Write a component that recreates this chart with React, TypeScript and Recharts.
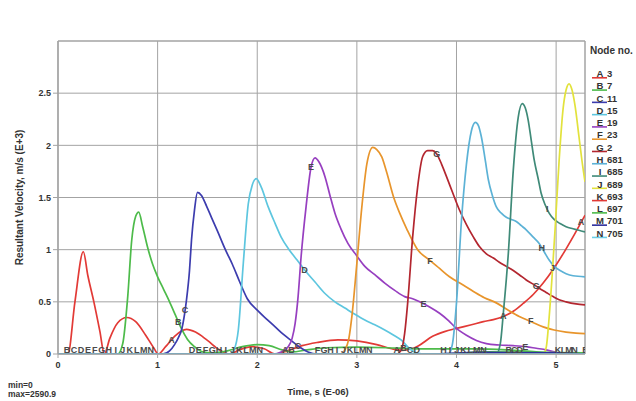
import React from 'react';
import {
  ComposedChart,
  Line,
  Scatter,
  XAxis,
  YAxis,
  CartesianGrid,
  ReferenceArea,
} from 'recharts';

// resultant velocity (m/s E+3) against time (s E-06), one list per node
const node3: [number, number][] = [
  [0, 0], [0.1, 0], [0.17, 0.5], [0.254, 0.98], [0.3, 0.75], [0.36, 0.5], [0.42, 0.22], [0.465, 0],
  [0.52, 0.15], [0.6, 0.3], [0.69, 0.35], [0.78, 0.31], [0.88, 0.18], [0.96, 0.06], [1.006, 0],
  [1.08, 0.07], [1.17, 0.17], [1.29, 0.236], [1.38, 0.21], [1.5, 0.13], [1.62, 0.04], [1.72, 0],
  [1.82, 0.04], [1.95, 0.07], [2.07, 0.05], [2.18, 0], [2.3, 0.03], [2.45, 0.08], [2.6, 0.11],
  [2.81, 0.135], [3.0, 0.125], [3.2, 0.09], [3.35, 0.05], [3.45, 0.035], [3.55, 0.05], [3.62, 0.08],
  [3.76, 0.17], [3.88, 0.215], [4.0, 0.245], [4.15, 0.28], [4.27, 0.31], [4.37, 0.33], [4.47, 0.36],
  [4.57, 0.41], [4.67, 0.485], [4.77, 0.57], [4.87, 0.68], [4.97, 0.81], [5.07, 0.96], [5.18, 1.14],
  [5.29, 1.33],
];
const node7: [number, number][] = [
  [0, 0], [0.6, 0], [0.65, 0.1], [0.7, 0.55], [0.74, 1.09], [0.78, 1.32], [0.81, 1.36], [0.85, 1.22],
  [0.9, 1.02], [0.95, 0.86], [1.0, 0.74], [1.06, 0.62], [1.12, 0.5], [1.18, 0.37], [1.24, 0.24],
  [1.3, 0.14], [1.37, 0.07], [1.45, 0.02], [1.55, 0.01], [1.7, 0.03], [1.85, 0.07], [2.0, 0.09],
  [2.12, 0.08], [2.25, 0.04], [2.35, 0.02], [2.5, 0.04], [2.7, 0.06], [3.0, 0.065], [3.3, 0.06],
  [3.6, 0.05], [3.9, 0.05], [4.2, 0.05], [4.5, 0.04], [4.8, 0.02], [5.0, 0.01], [5.29, 0.01],
];
const node11: [number, number][] = [
  [0, 0], [1.05, 0], [1.12, 0.03], [1.17, 0.09], [1.21, 0.16], [1.24, 0.23], [1.27, 0.38], [1.29, 0.52],
  [1.32, 0.8], [1.34, 1.09], [1.37, 1.38], [1.4, 1.55], [1.44, 1.52], [1.49, 1.42], [1.54, 1.31],
  [1.6, 1.18], [1.68, 1.0], [1.75, 0.86], [1.82, 0.7], [1.9, 0.53], [2.0, 0.42], [2.1, 0.33],
  [2.18, 0.26], [2.26, 0.19], [2.34, 0.13], [2.42, 0.07], [2.51, 0.02], [2.6, 0], [5.29, 0],
];
const node15: [number, number][] = [
  [0, 0], [1.72, 0], [1.77, 0.05], [1.81, 0.23], [1.86, 0.87], [1.91, 1.44], [1.95, 1.62], [1.99, 1.68],
  [2.04, 1.6], [2.11, 1.41], [2.18, 1.25], [2.24, 1.12], [2.32, 1.0], [2.4, 0.9], [2.48, 0.8],
  [2.58, 0.69], [2.68, 0.58], [2.78, 0.5], [2.88, 0.44], [2.98, 0.38], [3.08, 0.325], [3.18, 0.28],
  [3.28, 0.23], [3.37, 0.18], [3.45, 0.13], [3.52, 0.06], [3.6, 0.01], [3.7, 0], [5.29, 0],
];
const node19: [number, number][] = [
  [0, 0], [2.16, 0], [2.24, 0.02], [2.31, 0.07], [2.35, 0.15], [2.38, 0.29], [2.41, 0.55], [2.44, 0.93],
  [2.49, 1.41], [2.54, 1.79], [2.58, 1.88], [2.62, 1.84], [2.68, 1.7], [2.73, 1.52], [2.78, 1.35],
  [2.84, 1.2], [2.91, 1.06], [3.0, 0.94], [3.08, 0.84], [3.18, 0.76], [3.28, 0.68], [3.38, 0.61],
  [3.48, 0.55], [3.56, 0.53], [3.63, 0.5], [3.73, 0.45], [3.83, 0.39], [3.92, 0.32], [4.0, 0.245],
  [4.1, 0.18], [4.2, 0.13], [4.3, 0.1], [4.43, 0.086], [4.57, 0.08], [4.7, 0.07], [4.8, 0.055],
  [4.9, 0.04], [5.0, 0.015], [5.1, 0], [5.29, 0],
];
const node23: [number, number][] = [
  [0, 0], [2.83, 0], [2.88, 0.04], [2.92, 0.15], [2.95, 0.36], [3.0, 0.87], [3.05, 1.41], [3.1, 1.82],
  [3.16, 1.98], [3.2, 1.96], [3.25, 1.89], [3.3, 1.74], [3.37, 1.5], [3.43, 1.35], [3.5, 1.2],
  [3.61, 1.0], [3.73, 0.9], [3.83, 0.82], [3.93, 0.74], [4.05, 0.67], [4.17, 0.6], [4.28, 0.54],
  [4.4, 0.49], [4.52, 0.42], [4.63, 0.36], [4.75, 0.31], [4.87, 0.26], [4.98, 0.23], [5.1, 0.21],
  [5.2, 0.2], [5.29, 0.195],
];
const node2: [number, number][] = [
  [0, 0], [3.4, 0], [3.45, 0.05], [3.48, 0.2], [3.51, 0.49], [3.56, 1.12], [3.61, 1.6], [3.66, 1.89],
  [3.71, 1.95], [3.76, 1.95], [3.8, 1.92], [3.85, 1.82], [3.9, 1.7], [3.96, 1.55], [4.03, 1.38],
  [4.1, 1.24], [4.17, 1.12], [4.23, 1.03], [4.3, 0.96], [4.37, 0.92], [4.43, 0.88], [4.5, 0.84],
  [4.57, 0.8], [4.63, 0.76], [4.7, 0.71], [4.77, 0.67], [4.83, 0.63], [4.9, 0.59], [4.97, 0.55],
  [5.03, 0.52], [5.1, 0.5], [5.2, 0.48], [5.29, 0.47],
];
const node681: [number, number][] = [
  [0, 0], [3.92, 0], [3.96, 0.1], [4.0, 0.49], [4.05, 1.28], [4.1, 1.82], [4.15, 2.14], [4.19, 2.22],
  [4.22, 2.19], [4.25, 2.08], [4.29, 1.85], [4.32, 1.67], [4.36, 1.52], [4.4, 1.41], [4.45, 1.35],
  [4.5, 1.31], [4.55, 1.29], [4.6, 1.27], [4.65, 1.23], [4.7, 1.19], [4.77, 1.12], [4.83, 1.06],
  [4.88, 0.98], [4.93, 0.9], [4.98, 0.84], [5.04, 0.8], [5.1, 0.77], [5.17, 0.75], [5.29, 0.74],
];
const node685: [number, number][] = [
  [0, 0], [4.4, 0], [4.44, 0.1], [4.47, 0.39], [4.52, 0.96], [4.57, 1.76], [4.62, 2.27], [4.66, 2.4],
  [4.69, 2.36], [4.72, 2.24], [4.75, 2.05], [4.78, 1.86], [4.82, 1.68], [4.85, 1.54], [4.89, 1.43],
  [4.93, 1.35], [4.98, 1.29], [5.04, 1.25], [5.1, 1.22], [5.17, 1.2], [5.29, 1.17],
];
const node689: [number, number][] = [
  [0, 0], [4.87, 0], [4.9, 0.06], [4.93, 0.35], [4.96, 0.75], [4.99, 1.2], [5.03, 1.85], [5.07, 2.35],
  [5.1, 2.53], [5.13, 2.59], [5.16, 2.53], [5.19, 2.38], [5.23, 2.08], [5.26, 1.85], [5.29, 1.65],
];
const node693: [number, number][] = [[0, 0], [5.29, 0]];
const node697: [number, number][] = [[0, 0], [3.9, 0], [4.3, 0.02], [4.8, 0.015], [5.29, 0.01]];
const node701: [number, number][] = [[0, 0], [3.8, 0], [4.2, 0.015], [5.0, 0.01], [5.29, 0]];
const node705: [number, number][] = [[0, 0], [5.29, 0]];

// curve letters are repeated along each curve, one pass after another
const LABEL_STARTS = [0.02, 1.14, 2.28, 3.4, 4.47, 5.25];
const LABEL_STEPS = [0.07, 0.068, 0.065, 0.067, 0.055, 0.045];

const X_TICKS = [0, 1, 2, 3, 4, 5];
const Y_TICKS = [0, 0.5, 1, 1.5, 2, 2.5];
const Y_MINOR = [0.25, 0.75, 1.25, 1.75, 2.25, 2.75];

const FONT = '"Liberation Sans", Arial, sans-serif';
const W = 636;
const H = 401;
const PLOT_TOP = 41;
const PLOT_LEFT = 58;
const PLOT_RIGHT = 585;
const PLOT_BOTTOM = 354;
const GRID = '#a3a3a3';
const TEXT = '#333';

const series = [
  { letter: 'A', node: '3', color: '#e23a36', raw: node3 },
  { letter: 'B', node: '7', color: '#4dbb4a', raw: node7 },
  { letter: 'C', node: '11', color: '#3c3cae', raw: node11 },
  { letter: 'D', node: '15', color: '#5dc6df', raw: node15 },
  { letter: 'E', node: '19', color: '#973fc0', raw: node19 },
  { letter: 'F', node: '23', color: '#e8952c', raw: node23 },
  { letter: 'G', node: '2', color: '#b3262f', raw: node2 },
  { letter: 'H', node: '681', color: '#5cb2d6', raw: node681 },
  { letter: 'I', node: '685', color: '#3f8a78', raw: node685 },
  { letter: 'J', node: '689', color: '#e2e23c', raw: node689 },
  { letter: 'K', node: '693', color: '#e23a36', raw: node693 },
  { letter: 'L', node: '697', color: '#4dbb4a', raw: node697 },
  { letter: 'M', node: '701', color: '#2e2e9c', raw: node701 },
  { letter: 'N', node: '705', color: '#6ccfe8', raw: node705 },
].map(s => ({ ...s, data: s.raw.map(([t, v]) => ({ t, v })) }));

// value of a curve at time t, used to sit the letters on their curve
const valueAt = (raw: [number, number][], t: number) => {
  for (let i = 1; i < raw.length; i++) {
    if (raw[i][0] >= t) {
      const [t0, v0] = raw[i - 1];
      const [t1, v1] = raw[i];
      return v0 + ((v1 - v0) * (t - t0)) / (t1 - t0 || 1);
    }
  }
  return raw[raw.length - 1][1];
};

const curveLabels = LABEL_STARTS.flatMap((start, k) =>
  series
    .map((s, i) => {
      const t = start + LABEL_STEPS[k] * i;
      return { t, v: valueAt(s.raw, t), letter: s.letter };
    })
    .filter(l => l.t > 0.05 && l.t <= 5.3)
);

const LetterShape = (p: any) => {
  const y = Math.min(p.cy, PLOT_BOTTOM - 4.5);
  return (
    <text
      x={p.cx}
      y={y}
      textAnchor="middle"
      dominantBaseline="central"
      fontFamily={FONT}
      fontSize={9}
      fontWeight="bold"
      fill="#4a4a4a"
    >
      {p.payload.letter}
    </text>
  );
};

export default function App() {
  return (
    <div style={{ position: 'absolute', left: 0, top: 0, width: W, height: H, background: '#fff' }}>
      <ComposedChart
        width={W}
        height={H}
        margin={{ top: PLOT_TOP, right: W - PLOT_RIGHT, left: 0, bottom: 0 }}
      >
        <CartesianGrid stroke={GRID} strokeWidth={1} />
        <XAxis
          dataKey="t"
          type="number"
          domain={[0, 5.29]}
          ticks={X_TICKS}
          allowDataOverflow
          height={H - PLOT_BOTTOM}
          stroke={GRID}
          tickSize={4}
          tickMargin={4}
          tick={{ fontSize: 9, fontWeight: 'bold', fill: TEXT, fontFamily: FONT }}
        />
        <YAxis
          dataKey="v"
          type="number"
          domain={[0, 3]}
          ticks={Y_TICKS}
          allowDataOverflow
          width={PLOT_LEFT}
          stroke={GRID}
          tickSize={5}
          tickMargin={2}
          tick={{ fontSize: 9, fontWeight: 'bold', fill: TEXT, fontFamily: FONT }}
        />
        <YAxis
          yAxisId="minor"
          type="number"
          domain={[0, 3]}
          ticks={Y_MINOR}
          mirror
          axisLine={false}
          tickSize={4}
          stroke={GRID}
          tickFormatter={() => ''}
        />
        <ReferenceArea x1={0} x2={5.29} y1={0} y2={3} fill="none" stroke={GRID} strokeWidth={1} />
        {series.map(s => (
          <Line
            key={s.letter}
            data={s.data}
            dataKey="v"
            type="monotone"
            stroke={s.color}
            strokeWidth={1.7}
            dot={false}
            activeDot={false}
            isAnimationActive={false}
          />
        ))}
        <Scatter data={curveLabels} shape={LetterShape} isAnimationActive={false} />
      </ComposedChart>

      <svg
        width={W}
        height={H}
        style={{ position: 'absolute', left: 0, top: 0, pointerEvents: 'none' }}
        fontFamily={FONT}
        fontWeight="bold"
        fill={TEXT}
      >
        <text
          x={19}
          y={(PLOT_TOP + PLOT_BOTTOM) / 2}
          transform={`rotate(-90 19 ${(PLOT_TOP + PLOT_BOTTOM) / 2})`}
          textAnchor="middle"
          dominantBaseline="central"
          fontSize={10}
        >
          Resultant Velocity, m/s (E+3)
        </text>
        <text x={318} y={391} textAnchor="middle" dominantBaseline="central" fontSize={9.5}>
          Time, s (E-06)
        </text>
        <text x={8} y={385} dominantBaseline="central" fontSize={8.5}>min=0</text>
        <text x={8} y={393.5} dominantBaseline="central" fontSize={8.5}>max=2590.9</text>

        <text x={590} y={50.5} dominantBaseline="central" fontSize={10}>Node no.</text>
        {series.map((s, i) => {
          const y = 73.5 + i * 12.28;
          return (
            <g key={s.letter}>
              <line x1={592} x2={607} y1={y + 4.3} y2={y + 4.3} stroke={s.color} strokeWidth={1.6} />
              <text x={600} y={y} textAnchor="middle" dominantBaseline="central" fontSize={9.5}>
                {s.letter}
              </text>
              <text x={607} y={y} dominantBaseline="central" fontSize={9.5}>
                {s.node}
              </text>
            </g>
          );
        })}
      </svg>
    </div>
  );
}
